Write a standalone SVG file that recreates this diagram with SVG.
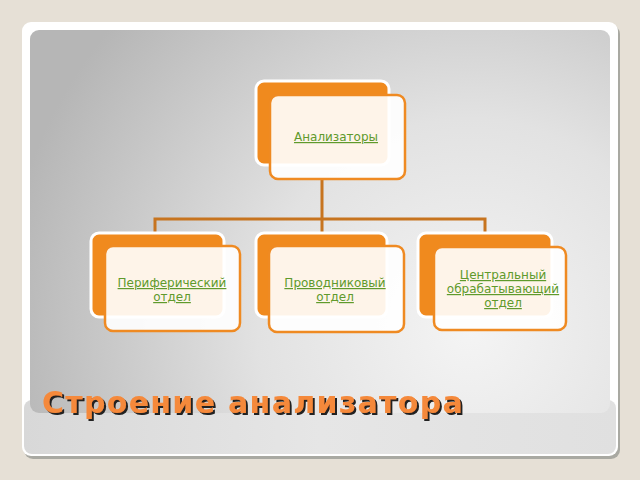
<svg xmlns="http://www.w3.org/2000/svg" width="640" height="480" viewBox="0 0 640 480">
<defs>
<radialGradient id="panelGrad" cx="470" cy="330" r="470" gradientUnits="userSpaceOnUse">
<stop offset="0" stop-color="#f4f4f4"/>
<stop offset="0.45" stop-color="#e2e2e2"/>
<stop offset="1" stop-color="#b6b6b6"/>
</radialGradient>
<linearGradient id="cardGrad" x1="0" y1="0" x2="1" y2="0">
<stop offset="0" stop-color="#d8d8d8"/>
<stop offset="0.5" stop-color="#e6e6e6"/>
<stop offset="1" stop-color="#e0e0e0"/>
</linearGradient>
<filter id="shadow" x="-5%" y="-20%" width="110%" height="150%">
<feDropShadow dx="2" dy="2" stdDeviation="0.6" flood-color="#202020" flood-opacity="1"/>
</filter>
<style>
.back{fill:#f08a1e;stroke:#ffffff;stroke-width:3}
.front{fill:#ffffff;fill-opacity:0.9;stroke:#ef8a22;stroke-width:2.5}
.lbl{font-family:"DejaVu Sans","Liberation Sans",sans-serif;font-size:12px;fill:#5f9a2c;text-anchor:middle;text-decoration:underline}
.conn{fill:none;stroke:#c7741f;stroke-width:3}
.title{font-family:"DejaVu Sans","Liberation Sans",sans-serif;font-size:30px;font-weight:bold;letter-spacing:1.3px}
</style>
</defs>
<rect width="640" height="480" fill="#e6e0d6"/>
<rect x="24" y="25" width="596" height="434" rx="9" fill="#a9a9a2"/>
<rect x="22" y="22" width="596" height="434" rx="9" fill="#ffffff"/>
<rect x="24" y="400" width="592" height="54" rx="8" fill="url(#cardGrad)"/>
<rect x="30" y="30" width="580" height="383" rx="9" fill="url(#panelGrad)"/>

<g id="connectors">
<path class="conn" d="M322,180 V219 M155,232 V219 H485 V232 M322,219 V232"/>
</g>

<g id="node-analyzers">
<rect class="back" x="256" y="81" width="133" height="84" rx="8"/>
<rect class="front" x="270" y="95" width="135" height="84" rx="8"/>
<text class="lbl" x="336" y="141">Анализаторы</text>
</g>

<g id="node-peripheral">
<rect class="back" x="91" y="233" width="133" height="84" rx="8"/>
<rect class="front" x="105" y="246" width="135" height="85" rx="8"/>
<text class="lbl" x="172" y="287">Периферический</text>
<text class="lbl" x="172" y="301">отдел</text>
</g>

<g id="node-conductive">
<rect class="back" x="256" y="233" width="131" height="84" rx="8"/>
<rect class="front" x="269" y="246" width="135" height="86" rx="8"/>
<text class="lbl" x="335" y="287">Проводниковый</text>
<text class="lbl" x="335" y="301">отдел</text>
</g>

<g id="node-central">
<rect class="back" x="418" y="233" width="134" height="84" rx="8"/>
<rect class="front" x="434" y="247" width="132" height="83" rx="8"/>
<text class="lbl" x="503" y="279">Центральный</text>
<text class="lbl" x="503" y="293">обрабатывающий</text>
<text class="lbl" x="503" y="307">отдел</text>
</g>

<g id="title">
<text class="title" x="42" y="413" fill="#f5893a" filter="url(#shadow)">Строение анализатора</text>
</g>
</svg>
